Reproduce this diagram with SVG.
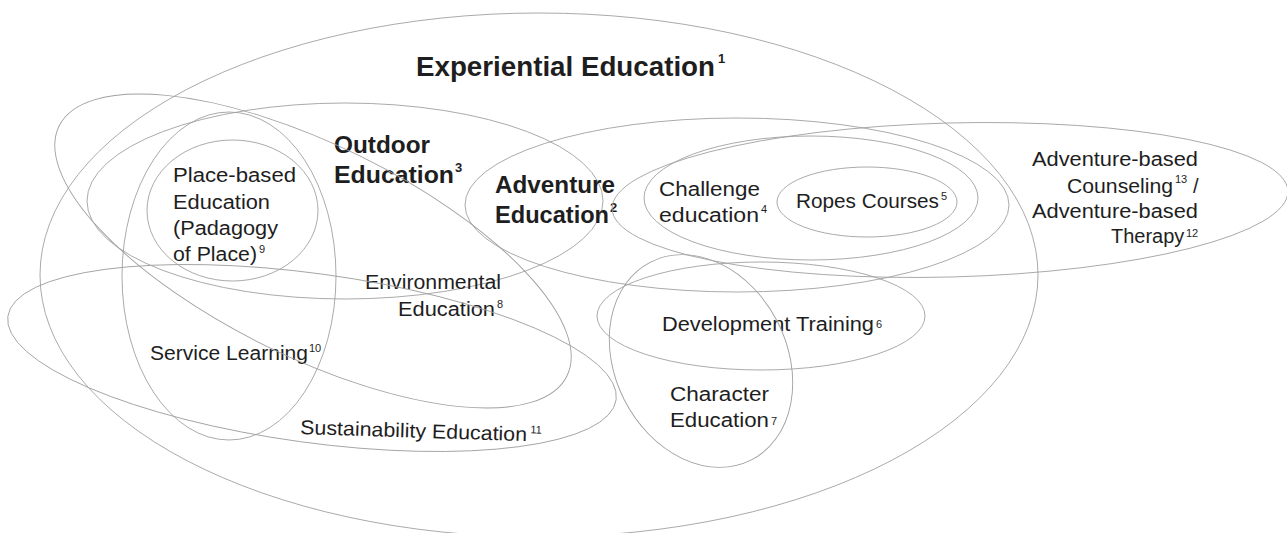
<svg xmlns="http://www.w3.org/2000/svg" width="1287" height="533" viewBox="0 0 1287 533">
  <style>
    .ring { fill: none; stroke: #a0a0a0; stroke-width: 0.9; }
    .t { font-family: "Liberation Sans", Arial, sans-serif; fill: #1e1e1e; }
    .hd { font-weight: bold; }
    .lbl { font-size: 20px; }
    .sup { font-size: 11px; }
    .hsup { font-size: 13px; font-weight: bold; }
  </style>
  <rect width="1287" height="533" fill="#ffffff"/>

  <!-- outlines of each field of practice -->
  <g id="experiential-education">
    <ellipse class="ring" cx="539" cy="275" rx="499" ry="262"/>
    <text class="t hd" font-size="27"><tspan x="416" y="76" textLength="299" lengthAdjust="spacingAndGlyphs">Experiential Education</tspan><tspan class="hsup" x="718" y="63">1</tspan></text>
  </g>

  <g id="outdoor-education">
    <ellipse class="ring" cx="345" cy="201" rx="258" ry="98"/>
    <text class="t hd" font-size="23.5"><tspan x="334" y="153" textLength="96" lengthAdjust="spacingAndGlyphs">Outdoor</tspan><tspan x="334" y="183" textLength="120" lengthAdjust="spacingAndGlyphs">Education</tspan><tspan class="hsup" x="455" y="172">3</tspan></text>
  </g>

  <g id="adventure-education">
    <ellipse class="ring" cx="737" cy="205" rx="272" ry="87"/>
    <text class="t hd" font-size="23.5"><tspan x="495" y="193" textLength="120" lengthAdjust="spacingAndGlyphs">Adventure</tspan><tspan x="495" y="223" textLength="114" lengthAdjust="spacingAndGlyphs">Education</tspan><tspan class="hsup" x="610" y="212">2</tspan></text>
  </g>

  <g id="place-based-education">
    <ellipse class="ring" cx="232.5" cy="210.5" rx="85.5" ry="70.5"/>
    <text class="t lbl" font-size="21"><tspan x="173" y="182" textLength="123" lengthAdjust="spacingAndGlyphs">Place-based</tspan><tspan x="173" y="209" textLength="97" lengthAdjust="spacingAndGlyphs">Education</tspan><tspan x="173" y="235" textLength="105" lengthAdjust="spacingAndGlyphs">(Padagogy</tspan><tspan x="173" y="261" textLength="84" lengthAdjust="spacingAndGlyphs">of Place)</tspan><tspan class="sup" x="259" y="253">9</tspan></text>
  </g>

  <g id="service-learning">
    <ellipse class="ring" cx="229" cy="276" rx="107" ry="164"/>
    <text class="t lbl"><tspan x="150" y="360" textLength="158" lengthAdjust="spacingAndGlyphs">Service Learning</tspan><tspan class="sup" x="309" y="352">10</tspan></text>
  </g>

  <g id="environmental-education">
    <ellipse class="ring" cx="313" cy="251" rx="283" ry="106" transform="rotate(26.2 313 251)"/>
    <text class="t lbl"><tspan x="365" y="289" textLength="136" lengthAdjust="spacingAndGlyphs">Environmental</tspan><tspan x="398" y="316" textLength="97" lengthAdjust="spacingAndGlyphs">Education</tspan><tspan class="sup" x="497" y="308">8</tspan></text>
  </g>

  <g id="sustainability-education">
    <ellipse class="ring" cx="312" cy="358" rx="307" ry="84.5" transform="rotate(7.8 312 358)"/>
    <text class="t lbl" transform="rotate(1.8 300 434)"><tspan x="300" y="434" textLength="227" lengthAdjust="spacingAndGlyphs">Sustainability Education</tspan><tspan class="sup" x="530" y="426">11</tspan></text>
  </g>

  <g id="adventure-based-counseling">
    <ellipse class="ring" cx="950" cy="200" rx="338" ry="77" transform="rotate(-1.5 950 200)"/>
    <text class="t lbl"><tspan x="1032" y="166" textLength="166" lengthAdjust="spacingAndGlyphs">Adventure-based</tspan><tspan x="1067" y="193" textLength="106" lengthAdjust="spacingAndGlyphs">Counseling</tspan><tspan class="sup" x="1175" y="183">13</tspan><tspan x="1193" y="193">/</tspan><tspan x="1032" y="218" textLength="166" lengthAdjust="spacingAndGlyphs">Adventure-based</tspan><tspan x="1111" y="243">Therapy</tspan><tspan class="sup" x="1186" y="237">12</tspan></text>
  </g>

  <g id="challenge-education">
    <ellipse class="ring" cx="811" cy="198" rx="167" ry="62"/>
    <text class="t lbl"><tspan x="659" y="196" textLength="101" lengthAdjust="spacingAndGlyphs">Challenge</tspan><tspan x="659" y="222" textLength="100" lengthAdjust="spacingAndGlyphs">education</tspan><tspan class="sup" x="761" y="213">4</tspan></text>
  </g>

  <g id="ropes-courses">
    <ellipse class="ring" cx="867" cy="202" rx="90" ry="35"/>
    <text class="t lbl"><tspan x="796" y="208" textLength="143" lengthAdjust="spacingAndGlyphs">Ropes Courses</tspan><tspan class="sup" x="941" y="200">5</tspan></text>
  </g>

  <g id="development-training">
    <ellipse class="ring" cx="761" cy="316" rx="164" ry="54"/>
    <text class="t lbl"><tspan x="662" y="331" textLength="212" lengthAdjust="spacingAndGlyphs">Development Training</tspan><tspan class="sup" x="876" y="328">6</tspan></text>
  </g>

  <g id="character-education">
    <ellipse class="ring" cx="701" cy="361" rx="111" ry="86" transform="rotate(63 701 361)"/>
    <text class="t lbl"><tspan x="670" y="401" textLength="99" lengthAdjust="spacingAndGlyphs">Character</tspan><tspan x="670" y="427" textLength="99" lengthAdjust="spacingAndGlyphs">Education</tspan><tspan class="sup" x="771" y="425">7</tspan></text>
  </g>

  <!-- the fields overlap directly; there are no connector lines -->
  <g id="connectors"/>
</svg>
